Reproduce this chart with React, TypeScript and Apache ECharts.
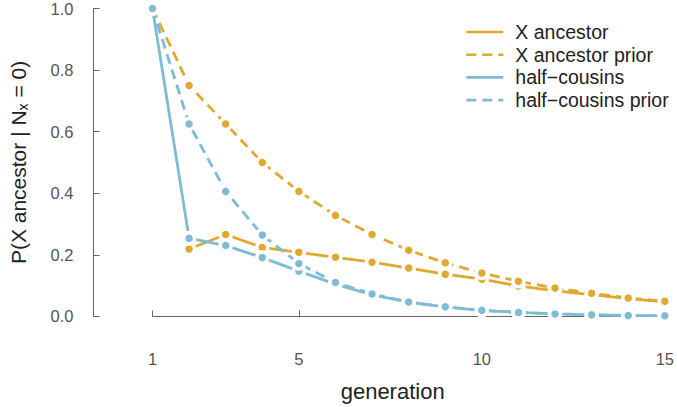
import React, { useEffect, useRef } from "react";
import * as echarts from "echarts";

const generations = [1, 2, 3, 4, 5, 6, 7, 8, 9, 10, 11, 12, 13, 14, 15];
const xTicks = [1, 5, 10, 15];
const seriesNames = ["X ancestor", "X ancestor prior", "half\u2212cousins", "half\u2212cousins prior"];

// values per generation (null = not drawn)
const xAncestor = [null, 0.219, 0.266, 0.224, 0.208, 0.192, 0.176, 0.157, 0.137, 0.121, 0.099, 0.083, 0.071, 0.058, 0.047];
const xAncestorPrior = [1.0, 0.75, 0.625, 0.5, 0.406, 0.328, 0.266, 0.215, 0.174, 0.141, 0.114, 0.092, 0.075, 0.06, 0.049];
const halfCousins = [1.0, 0.254, 0.23, 0.191, 0.147, 0.105, 0.07, 0.046, 0.031, 0.019, 0.013, 0.008, 0.005, 0.003, 0.002];
const halfCousinsPrior = [1.0, 0.625, 0.406, 0.264, 0.172, 0.11, 0.073, 0.047, 0.031, 0.02, 0.013, 0.008, 0.005, 0.003, 0.002];

const ORANGE = "#E0A82F";
const BLUE = "#7EBCD5";
const FONT = "Liberation Sans";

function pairs(vals: (number | null)[]) {
  const out: [number, number][] = [];
  vals.forEach((v, i) => {
    if (v !== null) out.push([generations[i], v]);
  });
  return out;
}

export default function App() {
  const ref = useRef<HTMLDivElement>(null);
  useEffect(() => {
    if (!ref.current) return;
    const chart = echarts.init(ref.current, null, { renderer: "svg" });
    const mk = (name: string, vals: (number | null)[], color: string, dashed: boolean) => ({
      name,
      type: "line",
      data: pairs(vals),
      symbol: "circle",
      symbolSize: 11,
      lineStyle: { color, width: 2.8, type: dashed ? [10, 6] : "solid" },
      itemStyle: { color, borderColor: "#ffffff", borderWidth: 3.5 },
      emphasis: { disabled: true },
    });
    chart.setOption({
      animation: false,
      textStyle: { fontFamily: FONT },
      grid: { left: 147, right: 11, top: 7.3, bottom: 90.3, containLabel: false },
      legend: {
        orient: "vertical",
        left: 460,
        top: 17,
        itemWidth: 37,
        itemHeight: 20,
        itemGap: 2.7,
        itemStyle: { opacity: 0 },
        lineStyle: { width: 2.6 },
        textStyle: { fontSize: 19.5, color: "#222", lineHeight: 20, padding: [0, 0, 0, 7], fontFamily: FONT },
        data: seriesNames,
      },
      xAxis: {
        type: "value",
        min: 1,
        max: 15,
        offset: 11.6,
        name: "generation",
        nameLocation: "middle",
        nameGap: 52,
        nameTextStyle: { fontSize: 22, color: "#222", padding: [0, 32, 0, 0], fontFamily: FONT },
        axisLine: { show: true, lineStyle: { color: "#666", width: 1 } },
        axisTick: { show: true, inside: true, length: 6, customValues: xTicks, lineStyle: { color: "#666" } },
        axisLabel: { show: true, customValues: xTicks, fontSize: 16.5, color: "#555", margin: 22, fontFamily: FONT },
        splitLine: { show: false },
      },
      yAxis: {
        type: "value",
        min: 0,
        max: 1,
        interval: 0.2,
        offset: 59,
        name: "P(X ancestor | N{sub|x} = 0)",
        nameLocation: "middle",
        nameGap: 64,
        nameTextStyle: {
          fontSize: 21,
          color: "#222",
          fontFamily: FONT,
          rich: { sub: { fontSize: 14, verticalAlign: "bottom", padding: [8, 0, 0, 0], fontFamily: FONT, color: "#222" } },
        },
        axisLine: { show: true, lineStyle: { color: "#666", width: 1 } },
        axisTick: { show: true, inside: true, length: 6, lineStyle: { color: "#666" } },
        axisLabel: { fontSize: 16.5, color: "#555", margin: 20, formatter: (v: number) => v.toFixed(1), fontFamily: FONT },
        splitLine: { show: false },
      },
      series: [
        mk(seriesNames[0], xAncestor, ORANGE, false),
        mk(seriesNames[1], xAncestorPrior, ORANGE, true),
        mk(seriesNames[2], halfCousins, BLUE, false),
        mk(seriesNames[3], halfCousinsPrior, BLUE, true),
      ],
    });
    return () => chart.dispose();
  }, []);
  return <div ref={ref} style={{ position: "absolute", left: 0, top: 0, width: 677, height: 407 }} />;
}
